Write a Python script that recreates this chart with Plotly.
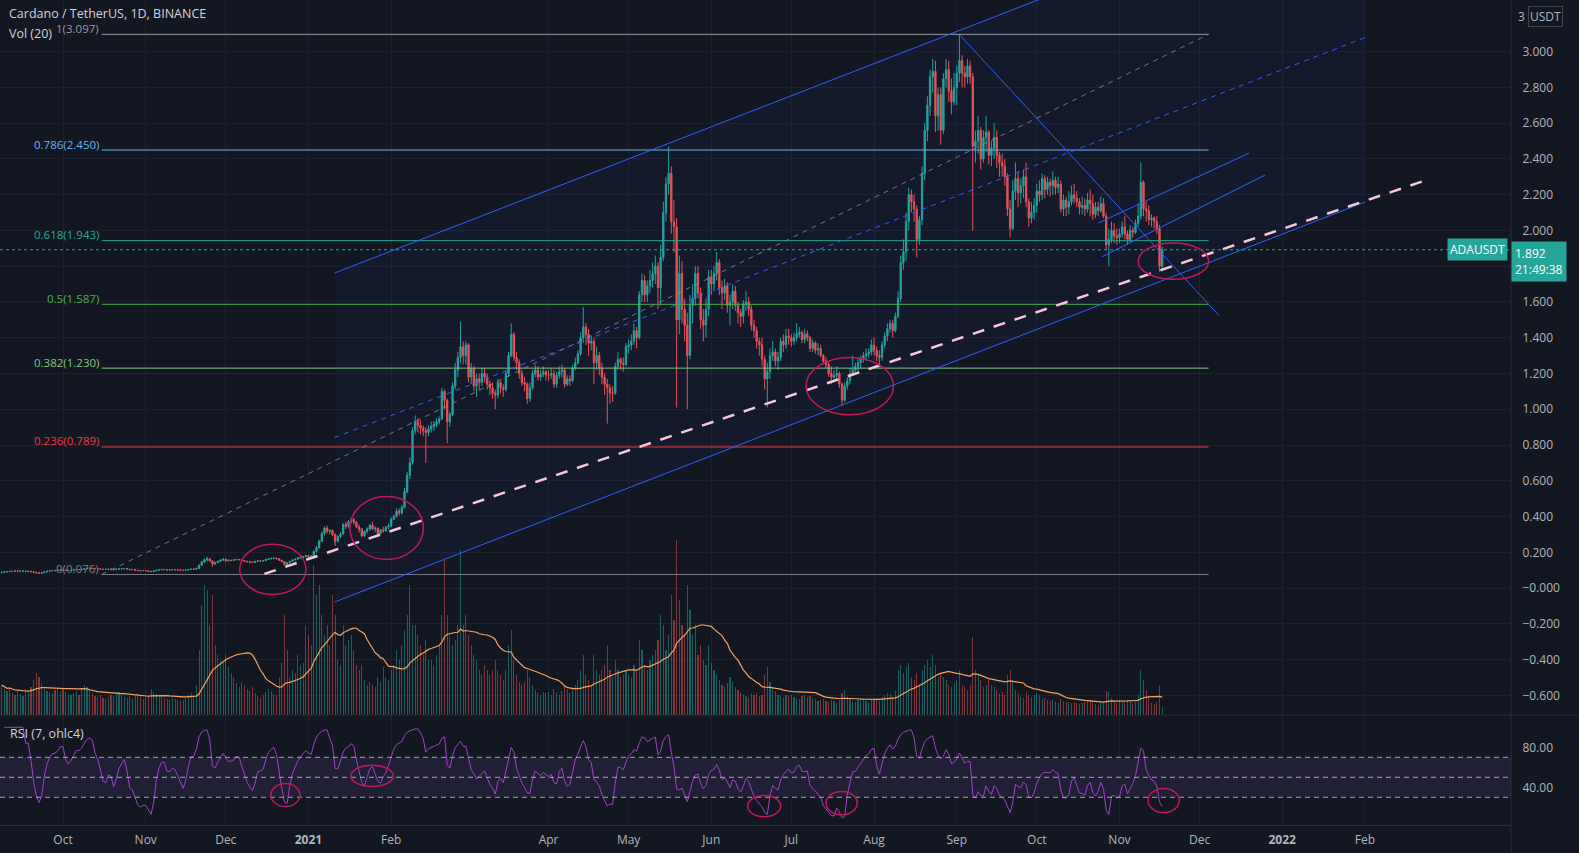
import numpy as np
import pandas as pd
import plotly.graph_objects as go

# ---------------- DATA ----------------
START = "2020-09-08"
FIRST_OPEN = 0.086

close_2020_09 = [0.088,0.090,0.092,0.094,0.093,0.096,0.094,0.095,0.095,0.093,0.094,0.091,0.088,0.085,0.082,0.086,0.090,0.094,0.096,0.098,0.097,0.100,0.102]
high_2020_09 = [0.091,0.093,0.094,0.096,0.096,0.098,0.097,0.097,0.097,0.096,0.096,0.095,0.092,0.089,0.087,0.088,0.092,0.096,0.098,0.100,0.100,0.102,0.104]
low_2020_09 = [0.084,0.086,0.088,0.091,0.091,0.092,0.092,0.093,0.093,0.091,0.092,0.089,0.086,0.082,0.079,0.081,0.085,0.089,0.093,0.095,0.095,0.096,0.099]
vol_2020_09 = [300,260,240,280,220,200,240,210,190,260,230,280,350,420,380,320,260,240,230,220,250,270,230]

close_2020_10 = [0.101,0.098,0.099,0.100,0.102,0.104,0.103,0.105,0.108,0.110,0.111,0.110,0.109,0.108,0.106,0.104,0.105,0.106,0.105,0.103,0.106,0.107,0.108,0.109,0.106,0.103,0.104,0.100,0.098,0.097,0.098]
high_2020_10 = [0.104,0.102,0.101,0.102,0.104,0.106,0.105,0.107,0.110,0.113,0.114,0.113,0.111,0.110,0.109,0.107,0.107,0.108,0.108,0.106,0.109,0.110,0.111,0.112,0.110,0.107,0.106,0.105,0.101,0.100,0.100]
low_2020_10 = [0.098,0.096,0.096,0.097,0.099,0.101,0.101,0.102,0.104,0.107,0.108,0.108,0.106,0.106,0.104,0.102,0.102,0.104,0.103,0.101,0.102,0.104,0.105,0.106,0.104,0.100,0.101,0.098,0.095,0.094,0.095]
vol_2020_10 = [260,230,210,200,220,240,200,260,300,280,250,220,190,180,200,170,160,180,200,190,210,230,200,180,170,190,160,200,220,190,160]

close_2020_11 = [0.097,0.094,0.092,0.096,0.100,0.102,0.104,0.103,0.101,0.102,0.103,0.102,0.101,0.100,0.099,0.101,0.104,0.106,0.105,0.110,0.128,0.146,0.158,0.164,0.152,0.134,0.143,0.150,0.157,0.162]
high_2020_11 = [0.100,0.098,0.095,0.098,0.102,0.105,0.107,0.106,0.104,0.104,0.105,0.104,0.103,0.102,0.101,0.103,0.106,0.108,0.108,0.113,0.132,0.152,0.166,0.175,0.166,0.154,0.147,0.153,0.160,0.166]
low_2020_11 = [0.095,0.092,0.090,0.091,0.095,0.099,0.101,0.101,0.099,0.100,0.100,0.100,0.099,0.098,0.097,0.098,0.100,0.103,0.103,0.104,0.109,0.126,0.140,0.150,0.146,0.120,0.130,0.139,0.146,0.152]
vol_2020_11 = [170,190,260,230,210,180,200,170,160,150,170,160,150,140,150,170,200,220,180,300,650,1100,1300,1250,900,1200,700,600,550,520]

close_2020_12 = [0.152,0.156,0.154,0.158,0.160,0.158,0.154,0.150,0.147,0.145,0.143,0.150,0.152,0.151,0.153,0.160,0.163,0.166,0.167,0.164,0.156,0.148,0.132,0.142,0.150,0.157,0.162,0.168,0.171,0.176,0.181]
high_2020_12 = [0.164,0.160,0.159,0.160,0.163,0.162,0.159,0.156,0.152,0.150,0.147,0.152,0.155,0.155,0.156,0.163,0.168,0.170,0.172,0.169,0.166,0.158,0.150,0.145,0.152,0.160,0.165,0.172,0.176,0.180,0.186]
low_2020_12 = [0.148,0.150,0.150,0.152,0.155,0.155,0.151,0.147,0.144,0.141,0.140,0.141,0.148,0.148,0.149,0.152,0.157,0.160,0.162,0.160,0.152,0.144,0.126,0.130,0.139,0.148,0.154,0.160,0.165,0.168,0.172]
vol_2020_12 = [600,480,420,380,320,280,330,300,260,240,280,220,190,170,200,230,260,240,210,200,380,520,1000,650,380,450,420,600,500,520,900]

close_2021_01 = [0.176,0.178,0.205,0.226,0.262,0.306,0.335,0.318,0.322,0.300,0.262,0.288,0.303,0.356,0.345,0.372,0.384,0.368,0.342,0.330,0.292,0.318,0.330,0.352,0.332,0.335,0.305,0.325,0.320,0.340,0.348]
high_2021_01 = [0.185,0.184,0.210,0.235,0.270,0.318,0.345,0.350,0.330,0.328,0.305,0.295,0.312,0.362,0.370,0.380,0.395,0.392,0.375,0.355,0.335,0.322,0.340,0.357,0.370,0.345,0.340,0.330,0.345,0.348,0.360]
low_2021_01 = [0.168,0.170,0.175,0.198,0.220,0.258,0.295,0.305,0.300,0.290,0.235,0.255,0.280,0.298,0.330,0.338,0.360,0.355,0.335,0.310,0.285,0.285,0.305,0.320,0.325,0.312,0.295,0.300,0.310,0.315,0.330]
vol_2021_01 = [800,700,1500,1200,1300,1000,800,900,700,1200,1000,550,500,900,700,750,800,650,500,450,500,350,300,330,300,280,380,330,480,380,350]

close_2021_02 = [0.385,0.400,0.430,0.420,0.450,0.540,0.630,0.700,0.880,0.930,0.910,0.895,0.880,0.870,0.890,0.905,0.915,0.930,0.945,1.100,1.050,0.930,0.970,1.130,1.220,1.290,1.350,1.300]
high_2021_02 = [0.395,0.410,0.445,0.445,0.465,0.560,0.650,0.730,0.900,0.965,0.950,0.940,0.910,0.900,0.910,0.930,0.935,0.950,0.960,1.120,1.110,1.060,0.985,1.150,1.260,1.320,1.490,1.380]
low_2021_02 = [0.340,0.380,0.395,0.405,0.410,0.445,0.530,0.610,0.690,0.860,0.870,0.860,0.850,0.700,0.850,0.870,0.880,0.900,0.915,0.940,1.000,0.810,0.900,0.960,1.110,1.180,1.260,1.250]
vol_2021_02 = [450,500,650,550,700,850,1000,1300,900,900,800,700,600,750,550,550,500,600,700,1000,1550,1000,800,700,750,900,1650,900]

close_2021_03 = [1.360,1.180,1.230,1.130,1.170,1.150,1.200,1.180,1.140,1.120,1.090,1.080,1.150,1.120,1.110,1.200,1.300,1.420,1.290,1.260,1.200,1.150,1.140,1.060,1.120,1.200,1.220,1.180,1.195,1.210,1.190]
high_2021_03 = [1.380,1.370,1.260,1.240,1.200,1.200,1.230,1.230,1.200,1.160,1.150,1.110,1.170,1.160,1.140,1.220,1.320,1.480,1.430,1.320,1.280,1.220,1.180,1.150,1.150,1.220,1.250,1.240,1.220,1.240,1.220]
low_2021_03 = [1.250,1.150,1.140,1.100,1.070,1.110,1.130,1.150,1.110,1.080,1.060,1.000,1.060,1.090,1.070,1.100,1.180,1.290,1.270,1.220,1.170,1.130,1.100,1.030,1.040,1.110,1.180,1.160,1.160,1.180,1.160]
vol_2021_03 = [1000,800,700,600,550,450,400,500,450,400,450,550,450,400,350,450,700,850,550,400,330,300,330,450,380,300,250,220,200,230,220]

close_2021_04 = [1.190,1.200,1.140,1.190,1.210,1.220,1.140,1.170,1.160,1.230,1.260,1.310,1.400,1.460,1.420,1.370,1.380,1.260,1.300,1.230,1.180,1.140,1.120,1.090,1.090,1.240,1.280,1.260,1.250,1.350]
high_2021_04 = [1.220,1.230,1.220,1.210,1.240,1.250,1.230,1.190,1.190,1.250,1.290,1.330,1.430,1.570,1.480,1.450,1.410,1.400,1.350,1.320,1.260,1.200,1.170,1.140,1.130,1.260,1.320,1.290,1.290,1.370]
low_2021_04 = [1.160,1.170,1.120,1.120,1.170,1.180,1.120,1.130,1.130,1.150,1.220,1.250,1.300,1.370,1.360,1.300,1.330,1.140,1.220,1.190,1.140,1.080,0.920,1.030,1.040,1.080,1.220,1.220,1.210,1.240]
vol_2021_04 = [230,200,260,220,200,240,300,260,220,280,300,350,450,600,400,350,300,600,450,400,450,500,700,450,380,550,450,380,400,450]

close_2021_05 = [1.360,1.380,1.440,1.400,1.640,1.720,1.640,1.690,1.720,1.760,1.800,1.680,1.850,2.100,2.260,2.320,2.050,2.020,1.500,1.760,1.560,1.470,1.300,1.580,1.620,1.760,1.650,1.500,1.470,1.560,1.740]
high_2021_05 = [1.390,1.420,1.480,1.460,1.660,1.760,1.750,1.720,1.780,1.820,1.860,1.820,1.920,2.160,2.300,2.470,2.360,2.170,2.070,1.860,1.830,1.620,1.540,1.640,1.700,1.800,1.800,1.680,1.560,1.620,1.780]
low_2021_05 = [1.310,1.330,1.360,1.340,1.390,1.600,1.600,1.600,1.650,1.680,1.700,1.560,1.580,1.830,2.050,2.200,1.980,1.880,1.010,1.420,1.480,1.380,1.000,1.280,1.480,1.580,1.620,1.450,1.380,1.400,1.520]
vol_2021_05 = [400,380,500,450,750,650,500,450,550,600,650,750,1000,900,650,800,1200,950,1750,1150,900,800,1300,1050,800,900,600,700,550,500,700]

close_2021_06 = [1.700,1.760,1.820,1.680,1.650,1.690,1.580,1.600,1.660,1.580,1.540,1.520,1.590,1.600,1.560,1.470,1.440,1.380,1.360,1.280,1.170,1.210,1.300,1.320,1.270,1.290,1.380,1.360,1.410,1.400]
high_2021_06 = [1.780,1.800,1.880,1.840,1.720,1.730,1.710,1.640,1.700,1.690,1.600,1.560,1.610,1.660,1.630,1.580,1.500,1.460,1.400,1.400,1.300,1.260,1.340,1.380,1.340,1.320,1.400,1.420,1.450,1.450]
low_2021_06 = [1.640,1.660,1.720,1.640,1.560,1.610,1.540,1.470,1.560,1.550,1.480,1.460,1.480,1.550,1.520,1.440,1.400,1.340,1.300,1.240,1.110,1.010,1.170,1.270,1.240,1.220,1.270,1.320,1.340,1.360]
vol_2021_06 = [520,450,400,350,300,280,320,380,330,280,250,220,200,190,180,220,200,220,190,200,400,480,330,270,240,200,190,180,200,190]

close_2021_07 = [1.380,1.400,1.420,1.430,1.390,1.420,1.400,1.340,1.370,1.330,1.340,1.300,1.270,1.250,1.200,1.180,1.190,1.200,1.140,1.050,1.130,1.160,1.200,1.220,1.240,1.260,1.280,1.300,1.310,1.320,1.360]
high_2021_07 = [1.420,1.430,1.480,1.460,1.440,1.450,1.440,1.410,1.390,1.380,1.370,1.360,1.310,1.290,1.270,1.240,1.220,1.240,1.210,1.150,1.150,1.180,1.230,1.300,1.260,1.290,1.300,1.320,1.340,1.340,1.390]
low_2021_07 = [1.350,1.360,1.380,1.400,1.370,1.370,1.380,1.320,1.320,1.310,1.300,1.290,1.250,1.230,1.180,1.140,1.160,1.170,1.120,1.020,1.040,1.110,1.140,1.190,1.200,1.200,1.230,1.260,1.270,1.290,1.300]
vol_2021_07 = [200,180,170,160,190,200,180,190,170,160,140,150,160,140,130,150,140,120,150,220,250,180,160,140,130,150,170,160,140,130,150]

close_2021_08 = [1.330,1.300,1.290,1.360,1.410,1.450,1.480,1.440,1.520,1.620,1.820,1.880,2.050,2.200,2.160,2.120,1.950,2.060,2.320,2.560,2.700,2.860,2.890,2.640,2.760,2.560,2.850,2.900,2.780,2.720,2.800]
high_2021_08 = [1.400,1.350,1.330,1.380,1.430,1.480,1.500,1.500,1.540,1.660,1.860,1.950,2.100,2.240,2.230,2.200,2.140,2.080,2.360,2.600,2.750,2.900,2.960,2.950,2.800,2.800,2.880,2.960,2.950,2.850,2.880]
low_2021_08 = [1.300,1.270,1.250,1.270,1.340,1.380,1.430,1.400,1.430,1.510,1.600,1.780,1.830,2.000,2.100,2.050,1.850,1.920,2.030,2.280,2.500,2.640,2.770,2.550,2.560,2.480,2.540,2.800,2.720,2.650,2.700]
vol_2021_08 = [160,150,140,180,200,220,210,180,240,450,500,420,480,520,380,350,420,300,450,500,550,480,600,500,380,420,380,350,300,280,320]

close_2021_09 = [2.880,2.950,2.880,2.860,2.920,2.860,2.470,2.500,2.560,2.400,2.520,2.550,2.420,2.460,2.520,2.420,2.380,2.360,2.300,2.120,2.010,2.220,2.290,2.210,2.250,2.300,2.160,2.070,2.100,2.140]
high_2021_09 = [2.920,3.100,2.980,2.920,2.960,2.950,2.880,2.560,2.640,2.580,2.560,2.640,2.560,2.500,2.600,2.560,2.440,2.430,2.400,2.320,2.170,2.280,2.380,2.330,2.290,2.340,2.380,2.180,2.160,2.180]
low_2021_09 = [2.700,2.830,2.800,2.800,2.820,2.820,2.000,2.380,2.430,2.340,2.380,2.440,2.370,2.360,2.400,2.350,2.300,2.300,2.250,2.080,1.960,2.000,2.170,2.130,2.150,2.180,2.130,2.020,2.040,2.060]
vol_2021_09 = [350,450,300,280,250,300,780,450,400,350,280,300,350,300,280,250,220,230,200,400,450,350,250,220,180,170,230,200,180,200]

close_2021_10 = [2.220,2.200,2.290,2.230,2.270,2.250,2.280,2.240,2.260,2.120,2.170,2.130,2.160,2.200,2.180,2.160,2.130,2.140,2.120,2.170,2.150,2.090,2.130,2.110,2.150,2.080,1.920,1.950,2.000,1.970,1.960]
high_2021_10 = [2.260,2.280,2.320,2.310,2.300,2.290,2.330,2.300,2.300,2.280,2.200,2.190,2.220,2.250,2.260,2.220,2.180,2.190,2.180,2.210,2.230,2.200,2.160,2.160,2.190,2.180,2.100,2.010,2.050,2.040,2.010]
low_2021_10 = [2.100,2.160,2.170,2.180,2.200,2.190,2.200,2.200,2.210,2.100,2.080,2.080,2.090,2.140,2.150,2.130,2.090,2.090,2.080,2.100,2.080,2.060,2.070,2.080,2.100,2.070,1.890,1.800,1.930,1.930,1.920]
vol_2021_10 = [220,200,160,170,150,140,150,130,120,160,140,130,130,120,130,120,110,120,130,140,150,130,110,100,120,130,240,230,170,140,120]

close_2021_11 = [1.980,2.020,1.980,1.950,2.000,1.990,2.040,2.080,2.270,2.120,2.110,2.060,2.070,2.050,2.010,1.800,1.892]
high_2021_11 = [2.010,2.050,2.080,2.000,2.030,2.020,2.060,2.150,2.380,2.280,2.160,2.140,2.090,2.080,2.080,2.030,1.910]
low_2021_11 = [1.930,1.960,1.950,1.920,1.930,1.960,1.980,2.020,2.060,2.080,2.050,2.030,2.020,2.010,1.980,1.770,1.790]
vol_2021_11 = [150,140,130,150,140,120,130,200,450,350,250,180,120,110,130,300,80]

# Fibonacci retracement (drawing)
fib_names = ["0", "0.236", "0.382", "0.5", "0.618", "0.786", "1"]
fib_prices = [0.076, 0.789, 1.230, 1.587, 1.943, 2.450, 3.097]
fib_colors = ["#787b86", "#f23645", "#81c784", "#4caf50", "#22ab94", "#64b5f6", "#9598a1"]
fib_dates = ["2020-10-15 11:30", "2021-12-04 10:00"]

# Parallel channel (drawing)
channel_dates = ["2021-01-10 19:00", "2022-02-01 00:00"]
channel_upper = [1.762, 3.999]
channel_lower = [-0.078, 2.159]

# Other trend lines (drawing): (date0, price0, date1, price1)
down_line = ["2021-09-02 05:00", 3.092, "2021-12-08 05:00", 1.526]
small_upper = ["2021-10-24 02:00", 2.042, "2021-12-19 14:00", 2.433]
small_lower = ["2021-10-25 10:00", 1.853, "2021-12-25 14:00", 2.310]
pink_line = ["2020-12-15 12:00", 0.079, "2022-02-22 17:00", 2.275]

# Hand drawn circles: (date0, date1, value0, value1)
price_circles = [
    ["2020-12-06 05:00", "2020-12-31 02:00", -0.036, 0.245],
    ["2021-01-16 12:00", "2021-02-13 02:00", 0.160, 0.512],
    ["2021-07-06 12:00", "2021-08-08 07:00", 0.969, 1.290],
    ["2021-11-08 00:00", "2021-12-04 10:00", 1.727, 1.930],
]
rsi_circles = [
    ["2020-12-17 22:00", "2020-12-28 19:00", 20.7, 43.8],
    ["2021-01-16 22:00", "2021-02-01 19:00", 40.8, 62.0],
    ["2021-06-14 14:00", "2021-06-27 00:00", 10.6, 31.8],
    ["2021-07-14 00:00", "2021-07-25 17:00", 12.6, 35.8],
    ["2021-11-11 17:00", "2021-11-23 10:00", 14.7, 38.8],
]

price_ticks = [3.0, 2.8, 2.6, 2.4, 2.2, 2.0, 1.8, 1.6, 1.4, 1.2, 1.0, 0.8, 0.6, 0.4, 0.2, 0.0, -0.2, -0.4, -0.6]
# (the 1.800 label is hidden behind the last-price badge in the reference)
price_ticktext = ["3.000", "2.800", "2.600", "2.400", "2.200", "2.000", "", "1.600", "1.400", "1.200",
                  "1.000", "0.800", "0.600", "0.400", "0.200", "\u22120.000", "\u22120.200", "\u22120.400", "\u22120.600"]
date_ticks = ["2020-10-01", "2020-11-01", "2020-12-01", "2021-01-01", "2021-02-01", "2021-04-01", "2021-05-01",
              "2021-06-01", "2021-07-01", "2021-08-01", "2021-09-01", "2021-10-01", "2021-11-01", "2021-12-01",
              "2022-01-01", "2022-02-01"]
date_ticktext = ["Oct", "Nov", "Dec", "<b>2021</b>", "Feb", "Apr", "May", "Jun", "Jul", "Aug", "Sep", "Oct", "Nov",
                 "Dec", "<b>2022</b>", "Feb"]
rsi_levels = [70, 50, 30]
last_price_text = "1.892"
countdown_text = "21:49:38"

# ---------------- assemble ----------------
close = (close_2020_09 + close_2020_10 + close_2020_11 + close_2020_12 + close_2021_01 + close_2021_02 +
         close_2021_03 + close_2021_04 + close_2021_05 + close_2021_06 + close_2021_07 + close_2021_08 +
         close_2021_09 + close_2021_10 + close_2021_11)
high = (high_2020_09 + high_2020_10 + high_2020_11 + high_2020_12 + high_2021_01 + high_2021_02 +
        high_2021_03 + high_2021_04 + high_2021_05 + high_2021_06 + high_2021_07 + high_2021_08 +
        high_2021_09 + high_2021_10 + high_2021_11)
low = (low_2020_09 + low_2020_10 + low_2020_11 + low_2020_12 + low_2021_01 + low_2021_02 +
       low_2021_03 + low_2021_04 + low_2021_05 + low_2021_06 + low_2021_07 + low_2021_08 +
       low_2021_09 + low_2021_10 + low_2021_11)
vol = (vol_2020_09 + vol_2020_10 + vol_2020_11 + vol_2020_12 + vol_2021_01 + vol_2021_02 +
       vol_2021_03 + vol_2021_04 + vol_2021_05 + vol_2021_06 + vol_2021_07 + vol_2021_08 +
       vol_2021_09 + vol_2021_10 + vol_2021_11)
n = min(len(close), len(high), len(low), len(vol))
c = np.array(close[:n], float)
o = np.concatenate([[FIRST_OPEN], c[:-1]])
h = np.maximum.reduce([np.array(high[:n], float), o, c])
l = np.minimum.reduce([np.array(low[:n], float), o, c])
v = np.array(vol[:n], float)
dates = pd.date_range(START, periods=n, freq="D")

up = c >= o
UP, DN = "#26a69a", "#ef5350"
vol_colors = np.where(up, "rgba(38,166,154,0.5)", "rgba(239,83,80,0.5)")
vol_ma = pd.Series(v).rolling(20, min_periods=1).mean()

src = pd.Series((o + h + l + c) / 4.0)
delta = src.diff()
gain = delta.clip(lower=0).ewm(alpha=1 / 7, adjust=False).mean()
loss = (-delta.clip(upper=0)).ewm(alpha=1 / 7, adjust=False).mean()
rsi = 100 - 100 / (1 + gain / loss)

fig = go.Figure()
# channel background
fig.add_trace(go.Scatter(
    x=[channel_dates[0], channel_dates[1], channel_dates[1], channel_dates[0]],
    y=[channel_lower[0], channel_lower[1], channel_upper[1], channel_upper[0]],
    fill="toself", fillcolor="rgba(41,98,255,0.045)", mode="none", hoverinfo="skip", yaxis="y"))
fig.add_trace(go.Bar(x=dates, y=v, marker=dict(color=vol_colors, line=dict(width=0)),
                     width=0.42 * 86400000, yaxis="y2", hoverinfo="skip"))
fig.add_trace(go.Scatter(x=dates, y=vol_ma, mode="lines", line=dict(color="#f5a25d", width=1.2),
                         yaxis="y2", hoverinfo="skip"))
fig.add_trace(go.Candlestick(x=dates, open=o, high=h, low=l, close=c, yaxis="y",
                             increasing=dict(line=dict(color=UP, width=1), fillcolor=UP),
                             decreasing=dict(line=dict(color=DN, width=1), fillcolor=DN),
                             whiskerwidth=0, hoverinfo="skip"))
fig.add_trace(go.Scatter(x=dates, y=rsi, mode="lines", line=dict(color="#a041c9", width=1),
                         yaxis="y3", hoverinfo="skip"))

shapes = []
# RSI band and levels
shapes.append(dict(type="rect", xref="paper", x0=0, x1=1, yref="y3", y0=30, y1=70,
                   fillcolor="rgba(126,87,194,0.13)", line=dict(width=0), layer="below"))
for lv in rsi_levels:
    shapes.append(dict(type="line", xref="paper", x0=0, x1=1, yref="y3", y0=lv, y1=lv,
                       line=dict(color="rgba(210,210,220,0.75)", width=1, dash="5px,4px")))
# Fib lines
for p, col in zip(fib_prices, fib_colors):
    shapes.append(dict(type="line", x0=fib_dates[0], x1=fib_dates[1], y0=p, y1=p, xref="x", yref="y",
                       line=dict(color=col, width=1)))
shapes.append(dict(type="line", x0=fib_dates[0], x1=fib_dates[1], y0=fib_prices[0], y1=fib_prices[-1],
                   xref="x", yref="y", line=dict(color="rgba(140,143,155,0.8)", width=1, dash="5px,5px")))
# channel lines
blue = "#2962ff"
shapes.append(dict(type="line", x0=channel_dates[0], x1=channel_dates[1], y0=channel_upper[0], y1=channel_upper[1],
                   xref="x", yref="y", line=dict(color=blue, width=1)))
shapes.append(dict(type="line", x0=channel_dates[0], x1=channel_dates[1], y0=channel_lower[0], y1=channel_lower[1],
                   xref="x", yref="y", line=dict(color=blue, width=1)))
shapes.append(dict(type="line", x0=channel_dates[0], x1=channel_dates[1],
                   y0=(channel_upper[0] + channel_lower[0]) / 2, y1=(channel_upper[1] + channel_lower[1]) / 2,
                   xref="x", yref="y", line=dict(color=blue, width=1, dash="5px,5px")))
for ln in (down_line, small_upper, small_lower):
    shapes.append(dict(type="line", x0=ln[0], y0=ln[1], x1=ln[2], y1=ln[3], xref="x", yref="y",
                       line=dict(color=blue, width=1)))
shapes.append(dict(type="line", x0=pink_line[0], y0=pink_line[1], x1=pink_line[2], y1=pink_line[3],
                   xref="x", yref="y", line=dict(color="#f8c8d8", width=2.5, dash="12px,10px")))
# last price line
shapes.append(dict(type="line", xref="paper", x0=0, x1=1, yref="y", y0=c[-1], y1=c[-1],
                   line=dict(color=UP, width=1, dash="dot")))
# circles
for cc in price_circles:
    shapes.append(dict(type="circle", x0=cc[0], x1=cc[1], y0=cc[2], y1=cc[3], xref="x", yref="y",
                       line=dict(color="#c2185b", width=1.5)))
for cc in rsi_circles:
    shapes.append(dict(type="circle", x0=cc[0], x1=cc[1], y0=cc[2], y1=cc[3], xref="x", yref="y3",
                       line=dict(color="#c2185b", width=1.5)))
# pane separators
PANE = 110 / 825
shapes.append(dict(type="line", xref="paper", x0=0, x1=1.05, yref="paper", y0=PANE, y1=PANE,
                   line=dict(color="#2a2e39", width=1)))
shapes.append(dict(type="line", xref="paper", x0=1, x1=1, yref="paper", y0=-0.04, y1=1,
                   line=dict(color="#2a2e39", width=1)))

ann = []
FONT = "Open Sans"
for name, p, col in zip(fib_names, fib_prices, fib_colors):
    ann.append(dict(x=fib_dates[0], y=p, xref="x", yref="y", text=f"{name}({p:.3f})", showarrow=False,
                    xanchor="right", yanchor="middle", xshift=-2, yshift=6, borderpad=0,
                    font=dict(color=col, size=11.5, family=FONT)))
ann.append(dict(xref="paper", yref="paper", x=8 / 1511, y=1 - 14 / 825, text="Cardano / TetherUS, 1D, BINANCE",
                showarrow=False, xanchor="left", yanchor="middle", borderpad=0,
                font=dict(color="#d1d4dc", size=12.5, family=FONT)))
ann.append(dict(xref="paper", yref="paper", x=8 / 1511, y=1 - 33 / 825, text="Vol (20)",
                showarrow=False, xanchor="left", yanchor="middle", borderpad=0,
                font=dict(color="#d1d4dc", size=12.5, family=FONT)))
ann.append(dict(xref="paper", yref="paper", x=8 / 1511, y=1 - 733 / 825, text="RSI (7, ohlc4)",
                showarrow=False, xanchor="left", yanchor="middle", font=dict(color="#d1d4dc", size=12.5, family=FONT)))
ann.append(dict(xref="paper", yref="y", x=1, y=c[-1], text="ADAUSDT", showarrow=False, xanchor="right",
                yanchor="middle", xshift=-3, bgcolor=UP, borderpad=2,
                font=dict(color="white", size=12, family=FONT)))
ann.append(dict(xref="paper", yref="y", x=1, y=c[-1], text=f"{last_price_text}<br>{countdown_text}",
                showarrow=False, xanchor="left", yanchor="top", yshift=9, align="left", bgcolor=UP, borderpad=3,
                font=dict(color="white", size=12, family=FONT)))
ann.append(dict(xref="paper", yref="paper", x=1, y=1, text="3", showarrow=False, xanchor="left",
                yanchor="middle", xshift=5, yshift=-16, font=dict(color="#b2b5be", size=12, family=FONT)))
ann.append(dict(xref="paper", yref="paper", x=1, y=1, text="USDT", showarrow=False, xanchor="left",
                yanchor="middle", xshift=17, yshift=-16, bordercolor="#434651", borderwidth=1, borderpad=1,
                font=dict(color="#b2b5be", size=12, family=FONT)))

GRID = "#1e2230"
fig.update_layout(
    width=1579, height=853, margin=dict(l=0, r=68, t=0, b=28),
    paper_bgcolor="#131722", plot_bgcolor="#131722", showlegend=False, hovermode=False,
    font=dict(family=FONT, color="#b2b5be", size=12),
    shapes=shapes, annotations=ann, bargap=0,
    xaxis=dict(type="date", range=["2020-09-07 09:00", "2022-03-27 18:00"], tickvals=date_ticks,
               ticktext=date_ticktext, showgrid=True, gridcolor=GRID, anchor="y3", showline=True,
               linecolor="#2a2e39", ticks="outside", ticklen=4, tickcolor="rgba(0,0,0,0)", zeroline=False,
               rangeslider=dict(visible=False), tickfont=dict(size=12, color="#b2b5be")),
    yaxis=dict(domain=[PANE, 1], range=[-0.710, 3.289], side="right", tickvals=price_ticks,
               ticktext=price_ticktext, showgrid=True, gridcolor=GRID, zeroline=False, showline=False,
               ticks="outside", ticklen=8, tickcolor="rgba(0,0,0,0)", anchor="x",
               tickfont=dict(size=12, color="#b2b5be")),
    yaxis2=dict(overlaying="y", range=[0, 7150], visible=False),
    yaxis3=dict(domain=[0, PANE], range=[2.3, 112.3], side="right", tickvals=[40, 80],
                ticktext=["40.00", "80.00"], showgrid=False, zeroline=False, showline=False,
                ticks="outside", ticklen=8, tickcolor="rgba(0,0,0,0)", anchor="x",
                tickfont=dict(size=12, color="#b2b5be")),
)

fig.write_html("out.html")
